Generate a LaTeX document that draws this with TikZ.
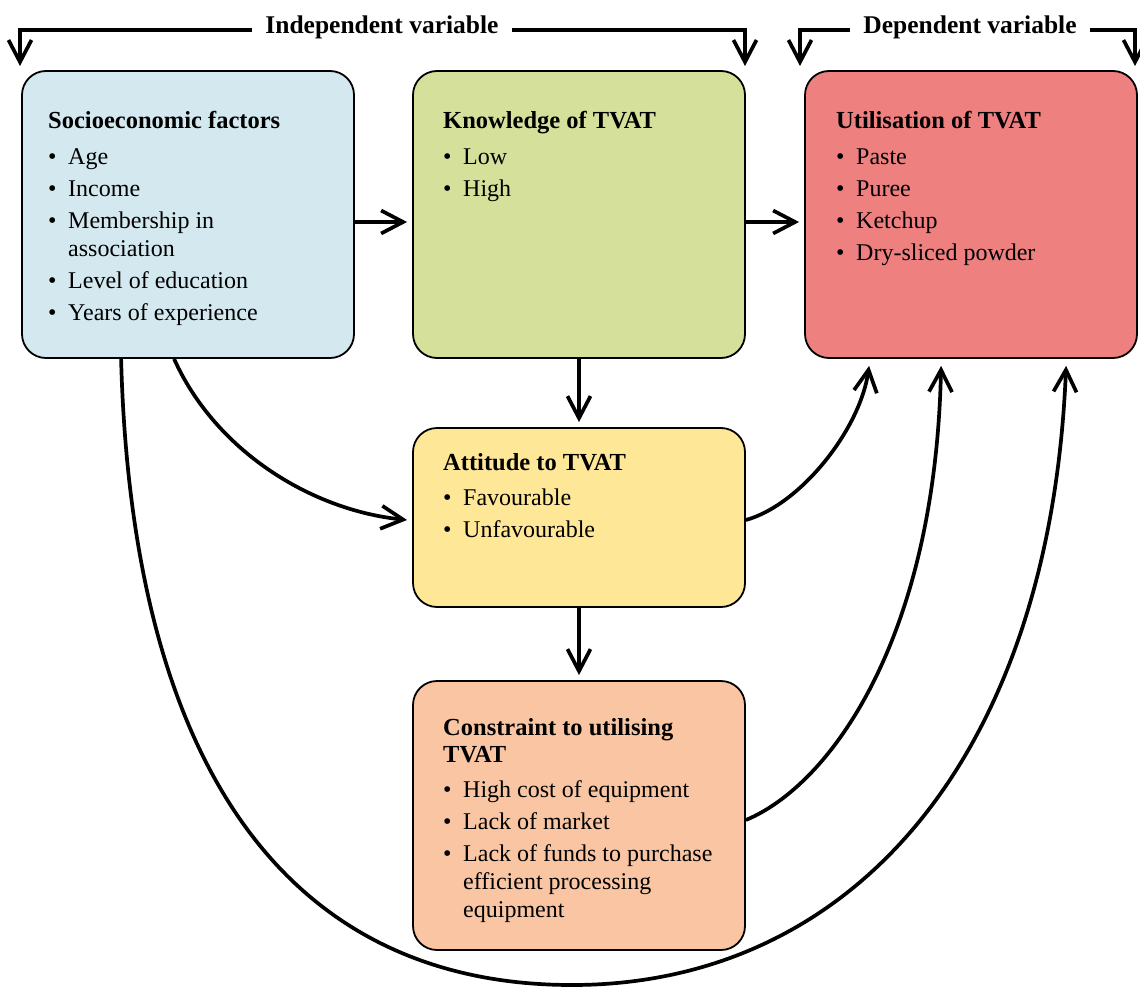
\documentclass[tikz,border=0pt]{standalone}
\usepackage{fontspec}
\setmainfont{Liberation Serif}
\usetikzlibrary{arrows.meta}
\definecolor{cblue}{HTML}{D3E9EF}
\definecolor{cgreen}{HTML}{D5E09B}
\definecolor{cred}{HTML}{EE8080}
\definecolor{cyellow}{HTML}{FEE797}
\definecolor{corange}{HTML}{F9C5A2}
\newcommand{\bul}{\makebox[20pt][l]{\textbullet}}
\newcommand{\ind}{\hspace*{20pt}}
\newcommand{\boxtitle}[1]{{\fontsize{24.5}{28}\selectfont\bfseries #1}}
\newcommand{\firststrut}{\rule{0pt}{20pt}}
\begin{document}
\begin{tikzpicture}[x=1pt,y=-1pt,
  box/.style={draw=black, line width=1.8pt, rounded corners=24pt, inner sep=0pt, minimum width=332pt},
  txt/.style={anchor=north west, align=left, inner sep=0pt, font=\fontsize{24}{28}\selectfont},
  lbl/.style={font=\fontsize{25.5}{28}\selectfont\bfseries, inner xsep=13pt, inner ysep=0pt},
  arr/.style={line width=3.7pt, -{Straight Barb[length=22pt,width=23pt]}},
]
\path[use as bounding box] (0,0) rectangle (1140,987);

% boxes
\node[box, fill=cblue,   minimum height=287pt] (soc)  at (188,214.5) {};
\node[box, fill=cgreen,  minimum height=287pt] (know) at (579,214.5) {};
\node[box, fill=cred,    minimum height=287pt] (util) at (971,214.5) {};
\node[box, fill=cyellow, minimum height=179pt] (att)  at (579,517.5) {};
\node[box, fill=corange, minimum height=269pt] (cons) at (579,815.5) {};

% texts
\node[txt] (soctxt) at (48,108) {\firststrut\boxtitle{Socioeconomic factors}\\[8pt]
  \bul Age\\[4pt]
  \bul Income\\[4pt]
  \bul Membership in\\
  \ind association\\[4pt]
  \bul Level of education\\[4pt]
  \bul Years of experience};
\node[txt] (knowtxt) at (443,108) {\firststrut\boxtitle{Knowledge of TVAT}\\[8pt]
  \bul Low\\[4pt]
  \bul High};
\node[txt] (utiltxt) at (836,108) {\firststrut\boxtitle{Utilisation of TVAT}\\[8pt]
  \bul Paste\\[4pt]
  \bul Puree\\[4pt]
  \bul Ketchup\\[4pt]
  \bul Dry-sliced powder};
\node[txt] (atttxt) at (443,450) {\firststrut\boxtitle{Attitude to TVAT}\\[7pt]
  \bul Favourable\\[4pt]
  \bul Unfavourable};
\node[txt] (constxt) at (443,715) {\firststrut\boxtitle{Constraint to utilising}\\[-1pt]
  \boxtitle{TVAT}\\[7pt]
  \bul High cost of equipment\\[4pt]
  \bul Lack of market\\[4pt]
  \bul Lack of funds to purchase\\
  \ind efficient processing\\
  \ind equipment};

% top labels
\coordinate (topline) at (0,30);
\coordinate (itipL) at (20,66);
\coordinate (itipR) at (745,66);
\coordinate (dtipL) at (800,66);
\coordinate (dtipR) at (1135,66);
\node[lbl] (indep) at (382,27) {Independent variable};
\node[lbl] (dep) at (970,27) {Dependent variable};
\draw[arr] (indep.west |- topline) -| (itipL);
\draw[arr] (indep.east |- topline) -| (itipR);
\draw[arr] (dep.west |- topline) -| (dtipL);
\draw[arr] (dep.east |- topline) -| (dtipR);

% straight connectors
\draw[arr] ([yshift=-7.5pt]soc.east) -- ([xshift=-5pt,yshift=-7.5pt]know.west);
\draw[arr] ([yshift=-7.5pt]know.east) -- ([xshift=-5pt,yshift=-7.5pt]util.west);
\draw[arr] (know.south) -- ([yshift=5pt]att.north);
\draw[arr] (att.south) -- ([yshift=5pt]cons.north);

% curved connectors
\draw[arr] ([xshift=153pt]soc.south west) .. controls (215,450) and (310,510) .. ([xshift=-5pt,yshift=-2.5pt]att.west);
\draw[arr] ([yshift=-2.5pt]att.east) .. controls (800,505) and (860,430) .. ([xshift=65pt,yshift=-7pt]util.south west);
\draw[arr] ([yshift=-4.5pt]cons.east) .. controls (830,785) and (935,640) .. ([xshift=137pt,yshift=-7pt]util.south west);
\coordinate (bot) at (572,985);
\draw[arr] ([xshift=100pt]soc.south west) .. controls (132,770) and (290,985) .. (bot)
  .. controls (850,985) and (1050,760) .. ([xshift=262pt,yshift=-7pt]util.south west);
\end{tikzpicture}
\end{document}
